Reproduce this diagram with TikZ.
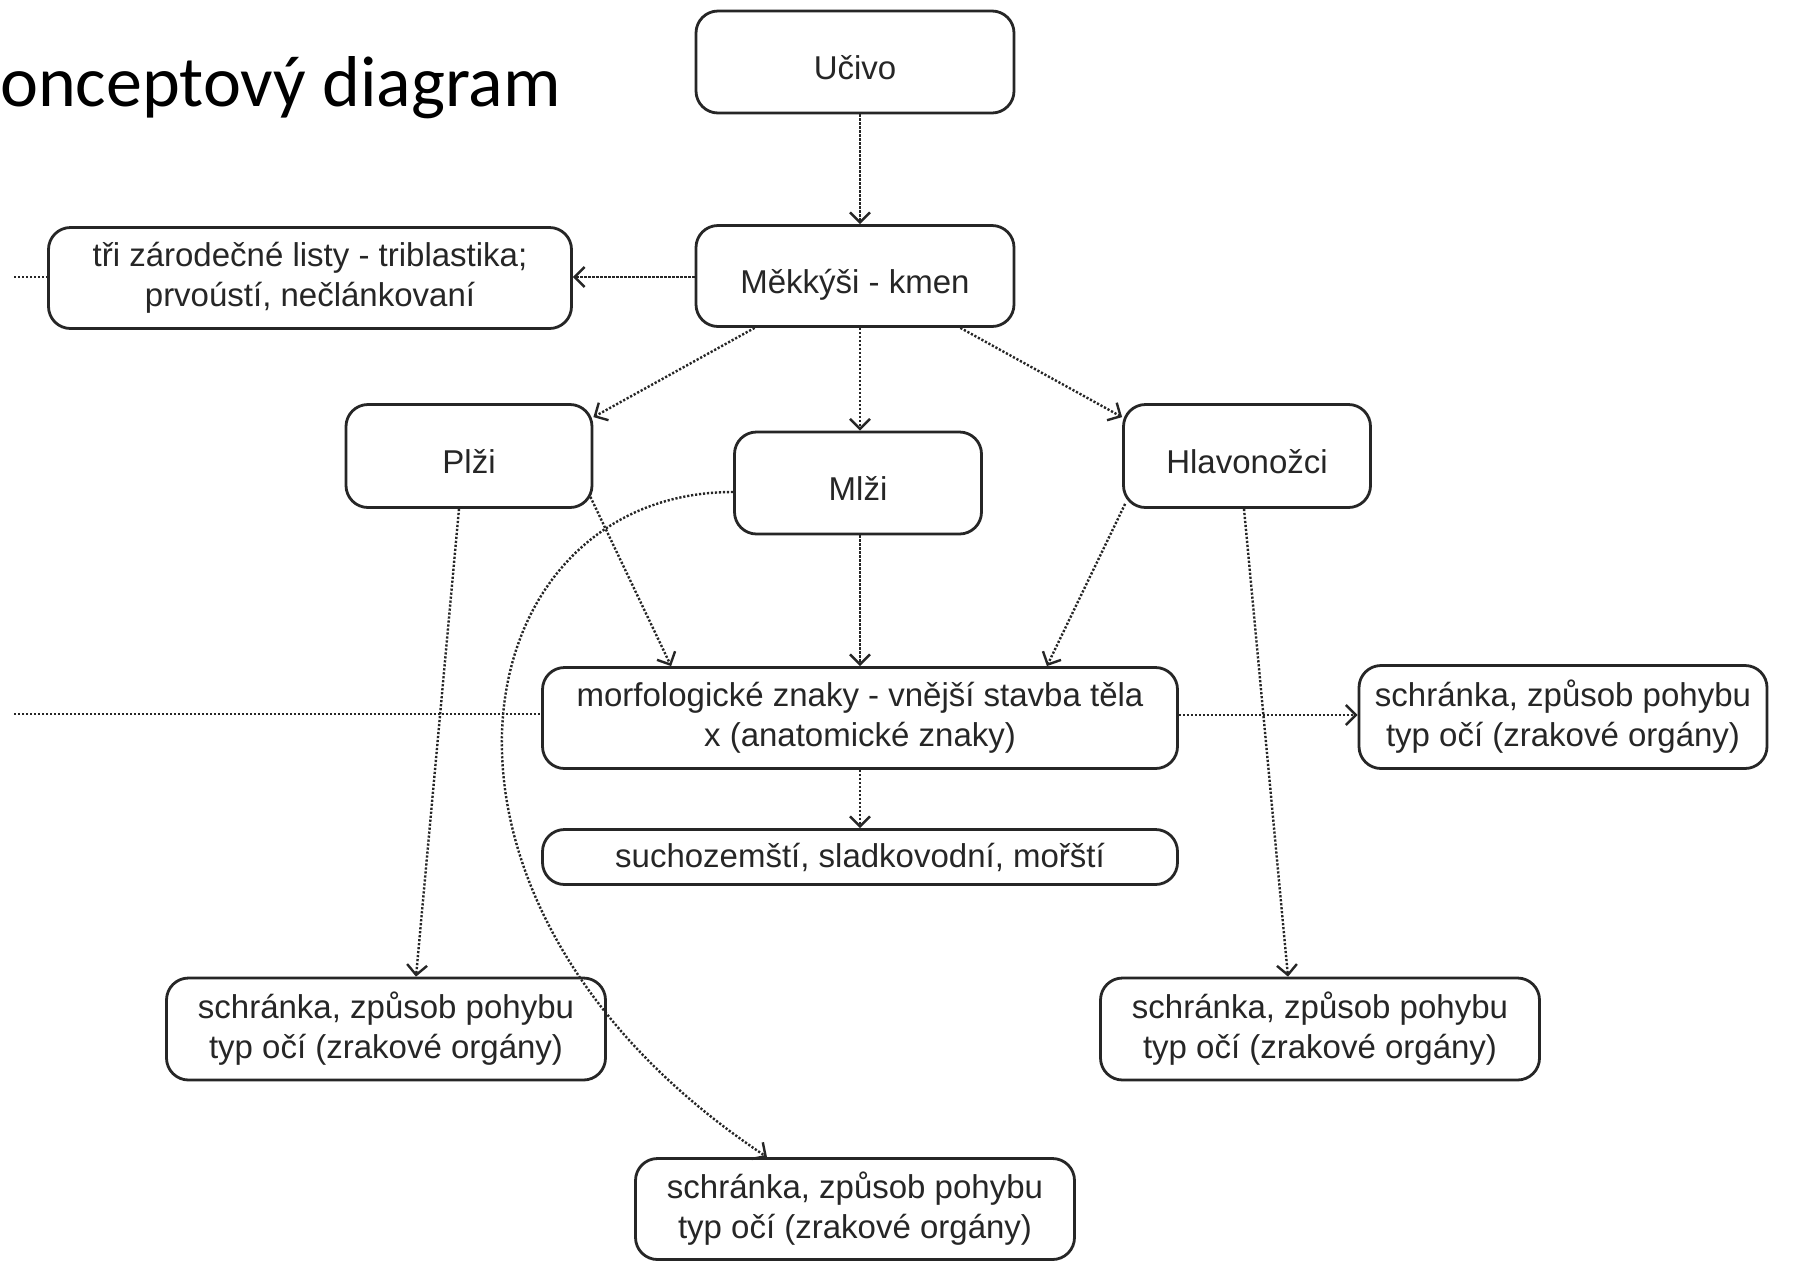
\documentclass[tikz,border=0pt]{standalone}
\usepackage{fontspec}
\setmainfont{Liberation Sans}
\newfontfamily\titlefont{Carlito}
\usetikzlibrary{arrows.meta,calc}
\tikzset{
  box/.style={draw=black!85, line width=2.8pt, rounded corners=22pt, align=center,
    text=black!85, inner sep=0pt, font=\fontsize{33}{40}\selectfont},
  single/.style={text height=35pt, text depth=0pt},
  conn/.style={draw=black!85, line width=2.4pt, dash pattern=on 2.2pt off 1.8pt},
  arr/.style={conn, -{Straight Barb[length=10pt,width=20pt,line width=2.4pt]}},
}
\begin{document}
\begin{tikzpicture}[x=1pt,y=-1pt]
\useasboundingbox (0,0) rectangle (1801,1262);
\fill[white] (0,0) rectangle (1801,1262);
\node[anchor=base west, font=\titlefont\fontsize{72}{80}\selectfont, inner sep=0pt] (title) at (0,106) {onceptový diagram};

\node[box, single, minimum width=318pt, minimum height=102pt] (uc) at (855,62) {Učivo};
\node[box, single, minimum width=318pt, minimum height=101pt] (mek) at (855,276) {Měkkýši - kmen};
\node[box, minimum width=523pt, minimum height=101pt] (tri) at (310,278) {tři zárodečné listy - triblastika;\\prvoústí, nečlánkovaní};
\node[box, single, minimum width=246pt, minimum height=103pt] (plzi) at (469,456) {Plži};
\node[box, single, minimum width=247pt, minimum height=102pt] (mlzi) at (858,483) {Mlži};
\node[box, single, minimum width=247pt, minimum height=103pt] (hlav) at (1247,456) {Hlavonožci};
\node[box, minimum width=635pt, minimum height=101pt] (morf) at (860,718) {morfologické znaky - vnější stavba těla\\x (anatomické znaky)};
\node[box, minimum width=408pt, minimum height=103pt] (sR) at (1563,717) {schránka, způsob pohybu\\typ očí (zrakové orgány)};
\node[box, minimum width=635pt, minimum height=55pt] (such) at (860,857) {suchozemští, sladkovodní, mořští};
\node[box, minimum width=439pt, minimum height=102pt] (sL) at (386,1029) {schránka, způsob pohybu\\typ očí (zrakové orgány)};
\node[box, minimum width=439pt, minimum height=102pt] (sH) at (1320,1029) {schránka, způsob pohybu\\typ očí (zrakové orgány)};
\node[box, minimum width=439pt, minimum height=101pt] (sB) at (855,1209) {schránka, způsob pohybu\\typ očí (zrakové orgány)};

\coordinate (offA) at (14,277);
\coordinate (offB) at (14,714);

\draw[arr] ($(uc.south)+(5,0)$) -- ($(mek.north)+(5,0)$);
\draw[arr] ($(mek.west)+(0,1)$) -- ($(tri.east)+(0,-1)$);
\draw[conn] (offA) -- ($(tri.west)+(0,-1)$);
\draw[arr] ($(mek.south west)+(60,0)$) -- ($(plzi.north east)+(0,14)$);
\draw[arr] ($(mek.south)+(5,0)$) -- ($(mlzi.north)+(2,0)$);
\draw[arr] ($(mek.south east)+(-55,0)$) -- ($(hlav.north west)+(0,14)$);
\draw[arr] ($(plzi.south east)+(-3,-12)$) -- ($(morf.north west)+(130,0)$);
\draw[arr] ($(mlzi.south)+(2,0)$) -- ($(morf.north)+(0,0)$);
\draw[arr] ($(hlav.south west)+(3,-5)$) -- ($(morf.north east)+(-132,0)$);
\draw[arr] ($(plzi.south)+(-10,0)$) -- ($(sL.north)+(30,0)$);
\draw[arr] ($(hlav.south)+(-3,0)$) -- ($(sH.north)+(-32,0)$);
\draw[arr] ($(mlzi.west)+(0,9)$) .. controls (460,492) and (380,900) .. ($(sB.north)+(-88,0)$);
\draw[arr] ($(morf.east)+(0,-3)$) -- ($(sR.west)+(0,-2)$);
\draw[arr] ($(morf.south)+(0,0)$) -- (such.north);
\draw[conn] (offB) -- ($(morf.west)+(0,-4)$);
\end{tikzpicture}
\end{document}
